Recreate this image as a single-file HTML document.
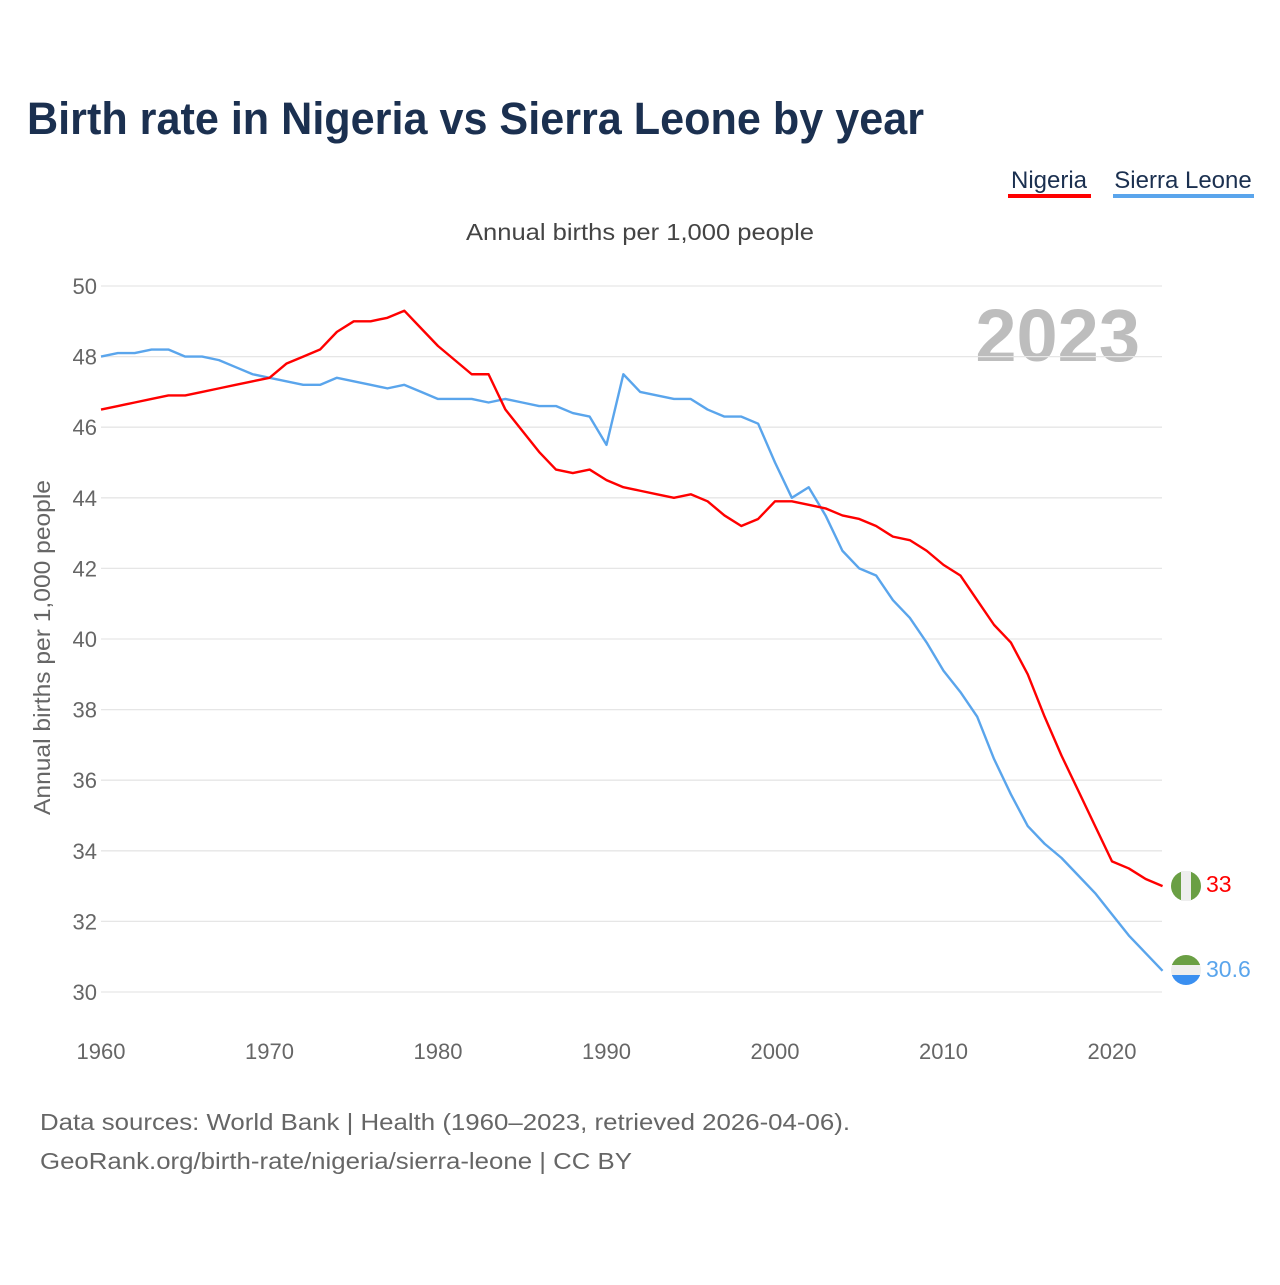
<!DOCTYPE html>
<html><head><meta charset="utf-8"><style>
body{margin:0;background:#fff;font-family:"Liberation Sans",sans-serif}
svg text{font-family:"Liberation Sans",sans-serif}
</style></head><body>
<svg width="1280" height="1280" viewBox="0 0 1280 1280">
<text x="27" y="134" font-size="45" font-weight="bold" fill="#1b3050" textLength="897" lengthAdjust="spacingAndGlyphs">Birth rate in Nigeria vs Sierra Leone by year</text>
<g><text x="1049" y="188" font-size="24" fill="#1b3050" text-anchor="middle">Nigeria</text><rect x="1008" y="194" width="83" height="4" fill="#ff0000"/></g>
<g><text x="1183" y="188" font-size="24" fill="#1b3050" text-anchor="middle">Sierra Leone</text><rect x="1113" y="194" width="141" height="4" fill="#5aa5ec"/></g>
<text x="466" y="240" font-size="23" fill="#444" textLength="348" lengthAdjust="spacingAndGlyphs">Annual births per 1,000 people</text>
<text x="1140" y="361" font-size="74" font-weight="bold" fill="#bdbdbd" text-anchor="end">2023</text>
<text transform="translate(50,815) rotate(-90)" font-size="23" fill="#666" textLength="335" lengthAdjust="spacingAndGlyphs">Annual births per 1,000 people</text>
<g id="grid"></g><g id="ylab"></g><g id="xlab"></g><g id="lines"></g>
<g>
<circle cx="1186" cy="886" r="15" fill="#6a9f44"/><rect x="1181" y="871" width="10" height="30" fill="#eee"/>
<text x="1206" y="892" font-size="23" fill="#ff0000">33</text></g>
<g>
<clipPath id="c"><circle cx="1186" cy="970" r="15"/></clipPath>
<g clip-path="url(#c)"><rect x="1171" y="955" width="30" height="10" fill="#6a9f44"/><rect x="1171" y="965" width="30" height="10" fill="#eee"/><rect x="1171" y="975" width="30" height="10" fill="#3a8ff0"/></g>
<text x="1206" y="977" font-size="23" fill="#5aa5ec">30.6</text></g>
<text x="40" y="1130" font-size="23" fill="#666" textLength="810" lengthAdjust="spacingAndGlyphs">Data sources: World Bank | Health (1960–2023, retrieved 2026-04-06).</text>
<text x="40" y="1169" font-size="23" fill="#666" textLength="592" lengthAdjust="spacingAndGlyphs">GeoRank.org/birth-rate/nigeria/sierra-leone | CC BY</text>
</svg>
<script>
const startYear=1960;
const yTicks=[30,32,34,36,38,40,42,44,46,48,50];
const xTicks=[1960,1970,1980,1990,2000,2010,2020];
const nigeria=[46.5,46.6,46.7,46.8,46.9,46.9,47.0,47.1,47.2,47.3,47.4,47.8,48.0,48.2,48.7,49.0,49.0,49.1,49.3,48.8,48.3,47.9,47.5,47.5,46.5,45.9,45.3,44.8,44.7,44.8,44.5,44.3,44.2,44.1,44.0,44.1,43.9,43.5,43.2,43.4,43.9,43.9,43.8,43.7,43.5,43.4,43.2,42.9,42.8,42.5,42.1,41.8,41.1,40.4,39.9,39.0,37.8,36.7,35.7,34.7,33.7,33.5,33.2,33.0];
const sierraLeone=[48.0,48.1,48.1,48.2,48.2,48.0,48.0,47.9,47.7,47.5,47.4,47.3,47.2,47.2,47.4,47.3,47.2,47.1,47.2,47.0,46.8,46.8,46.8,46.7,46.8,46.7,46.6,46.6,46.4,46.3,45.5,47.5,47.0,46.9,46.8,46.8,46.5,46.3,46.3,46.1,45.0,44.0,44.3,43.5,42.5,42.0,41.8,41.1,40.6,39.9,39.1,38.5,37.8,36.6,35.6,34.7,34.2,33.8,33.3,32.8,32.2,31.6,31.1,30.6];
const NS="http://www.w3.org/2000/svg";
const X=yr=>101+(yr-1960)*(1011/60);
const Y=v=>992-(v-30)*(706/20);
function mk(t,a,p){const e=document.createElementNS(NS,t);for(const k in a)e.setAttribute(k,a[k]);document.getElementById(p).appendChild(e);return e;}
yTicks.forEach(v=>{
 const l=mk('line',{x1:101,x2:1162,y1:Y(v),y2:Y(v),stroke:'#e6e6e6','stroke-width':1.3},'grid');
 
 
 const t=mk('text',{x:97,y:Y(v)+8,'font-size':22,fill:'#666','text-anchor':'end'},'ylab');t.textContent=v;
 
 
});
xTicks.forEach(yr=>{
 const t=mk('text',{x:X(yr),y:1059,'font-size':22,fill:'#666','text-anchor':'middle'},'xlab');t.textContent=yr;
 
 
});
function line(d,c,n){
 const p=mk('polyline',{points:d.map((v,i)=>X(startYear+i)+','+Y(v)).join(' '),fill:'none',stroke:c,'stroke-width':2.4,'stroke-linejoin':'round'},'lines');
 
 
}
line(sierraLeone,'#5aa5ec','sierra-leone-line');
line(nigeria,'#ff0000','nigeria-line');
</script>
</body></html>
